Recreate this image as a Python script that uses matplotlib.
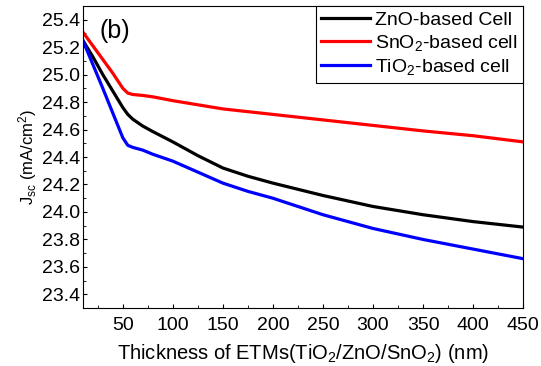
import matplotlib
matplotlib.use("Agg")
import matplotlib.pyplot as plt
from matplotlib.ticker import MultipleLocator

plt.rcParams["font.family"] = ["Liberation Sans", "DejaVu Sans"]
plt.rcParams["mathtext.fontset"] = "custom"
plt.rcParams["mathtext.rm"] = "Liberation Sans"
plt.rcParams["mathtext.it"] = "Liberation Sans"

# thickness (nm)
thickness = [10, 20, 30, 40, 50, 55, 60, 70, 80, 100, 125, 150, 175, 200,
             250, 300, 350, 400, 450]

zno_jsc = [25.25, 25.13, 25.00, 24.88, 24.76, 24.71, 24.675, 24.625, 24.585, 24.51,
           24.41, 24.32, 24.26, 24.21, 24.12, 24.04, 23.98, 23.93, 23.89]
sno2_jsc = [25.31, 25.21, 25.11, 25.01, 24.90, 24.865, 24.855, 24.848, 24.838, 24.81,
            24.78, 24.75, 24.73, 24.71, 24.67, 24.63, 24.59, 24.555, 24.51]
tio2_jsc = [25.25, 25.075, 24.90, 24.72, 24.54, 24.485, 24.47, 24.45, 24.42, 24.37,
            24.29, 24.21, 24.15, 24.10, 23.98, 23.88, 23.80, 23.73, 23.66]

fig = plt.figure(figsize=(5.41, 3.66), dpi=100)
ax = fig.add_axes([0.153, 0.158, 0.814, 0.826])

ax.plot(thickness, zno_jsc, color="black", lw=2.3, label="ZnO-based Cell")
ax.plot(thickness, sno2_jsc, color="#ff0000", lw=2.3, label="SnO$_2$-based cell")
ax.plot(thickness, tio2_jsc, color="#0000ff", lw=2.3, label="TiO$_2$-based cell")

ax.set_xlim(10, 450)
ax.set_ylim(23.3, 25.5)
ax.set_xticks([50, 100, 150, 200, 250, 300, 350, 400, 450])
ax.set_yticks([23.4, 23.6, 23.8, 24.0, 24.2, 24.4, 24.6, 24.8, 25.0, 25.2, 25.4])
ax.yaxis.set_minor_locator(MultipleLocator(0.1))
ax.xaxis.set_minor_locator(MultipleLocator(25))
ax.tick_params(which="both", direction="in", labelsize=14)
ax.tick_params(which="major", length=3)
ax.tick_params(which="minor", length=2)
ax.tick_params(axis="x", pad=6)
ax.tick_params(axis="y", pad=2)

ax.set_xlabel("Thickness of ETMs(TiO$_2$/ZnO/SnO$_2$) (nm)", fontsize=14.5, labelpad=6)
ax.set_ylabel("J$_{sc}$ (mA/cm$^2$)", fontsize=12, labelpad=2)

ax.text(0.039, 0.957, "(b)", transform=ax.transAxes, fontsize=18, va="top")

leg = ax.legend(loc="upper right", fontsize=14, fancybox=False, framealpha=1,
                edgecolor="black", borderaxespad=0, handlelength=2.5,
                handletextpad=0.25, labelspacing=0.2, borderpad=0.3)
leg.get_frame().set_linewidth(0.8)

fig.savefig("out.png", dpi=100)
